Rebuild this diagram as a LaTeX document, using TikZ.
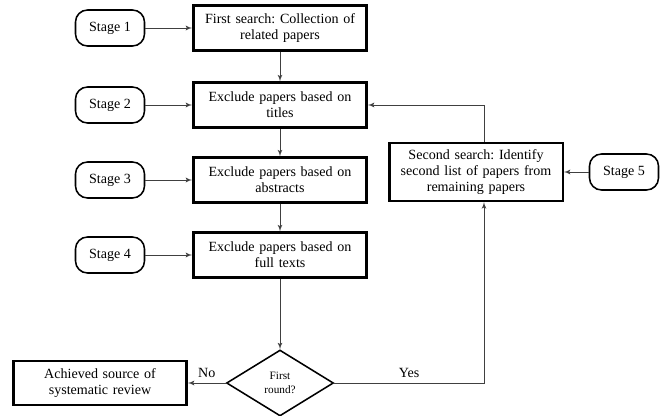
\documentclass[tikz,border=0pt]{standalone}
\usepackage{fontspec}
\setmainfont{Liberation Serif}
\usetikzlibrary{arrows,shapes,positioning}
\frenchspacing

\begin{document}
\begin{tikzpicture}[auto, node distance=1.875cm,>=latex', font=\fontsize{10}{11.5}\selectfont]
        \tikzstyle{block} = [draw, line width=1.7pt, rectangle, minimum height=1.125cm, minimum width=4.325cm, text width=4.1cm, align=center]
        \tikzstyle{stage} = [draw, line width=1.1pt, rectangle, rounded corners=0.3cm, minimum height=0.9cm, minimum width=1.725cm]
        \tikzstyle{decision} = [draw, line width=1.1pt, diamond, minimum width=2.675cm, minimum height=1.65cm, inner sep=0pt, align=center, font=\fontsize{8}{9.5}\selectfont]
        \tikzstyle{line} = [draw, ->, black!75, line width=0.6pt]

        \useasboundingbox (0,0) rectangle (16.55,-10.4);

        \node [block] at (7.0,-0.7) (search) {First search: Collection of\\related papers};
        \node [block, below of=search, node distance=1.925cm] (titles) {Exclude papers based on\\titles};
        \node [block, below of=titles] (abstracts) {Exclude papers based on\\abstracts};
        \node [block, below of=abstracts] (fulltexts) {Exclude papers based on\\full texts};
        \node [decision, below of=fulltexts, node distance=3.2cm] (round) {First\\round?};
        \node [block, left of=round, node distance=4.5cm, minimum height=1.1cm] (source) {Achieved source of\\systematic review};
        \node [block, right of=abstracts, node distance=4.9cm, yshift=0.2cm, minimum height=1.45cm] (second) {Second search: Identify\\second list of papers from\\remaining papers};

        \node [stage, left of=search, node distance=4.25cm] (st1) {Stage 1};
        \node [stage, left of=titles, node distance=4.25cm] (st2) {Stage 2};
        \node [stage, left of=abstracts, node distance=4.25cm] (st3) {Stage 3};
        \node [stage, left of=fulltexts, node distance=4.25cm] (st4) {Stage 4};
        \node [stage, right of=second, node distance=3.7cm] (st5) {Stage 5};

        \path [line] (st1) -- (search);
        \path [line] (st2) -- (titles);
        \path [line] (st3) -- (abstracts);
        \path [line] (st4) -- (fulltexts);
        \path [line] (st5) -- (second);

        \path [line] (search) -- (titles);
        \path [line] (titles) -- (abstracts);
        \path [line] (abstracts) -- (fulltexts);
        \path [line] (fulltexts) -- (round);
        \path [line] (round) -- node [above, text=black] {No} (source);
        \path [line] (round.east) -| node [above, pos=0.25, text=black] {Yes} ([xshift=0.2cm]second.south);
        \path [line] ([xshift=0.2cm]second.north) |- (titles);
\end{tikzpicture}
\end{document}
